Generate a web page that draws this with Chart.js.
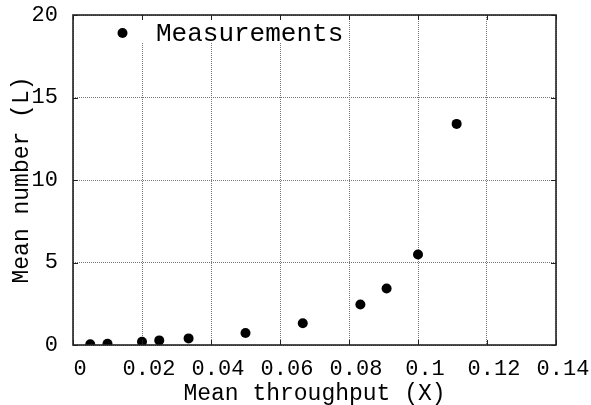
<!DOCTYPE html>
<html>
<head>
<meta charset="utf-8">
<script src="https://cdn.jsdelivr.net/npm/chart.js@4/dist/chart.umd.min.js"></script>
<style>
  html, body { margin: 0; padding: 0; background: #fff; }
  #wrap { width: 591px; height: 405px; }
</style>
</head>
<body>
<div id="wrap"><canvas id="c" width="591" height="405"></canvas></div>
<script>
// ---- data ----
const throughput = [0.005, 0.010, 0.020, 0.025, 0.0335, 0.050, 0.0666, 0.0833, 0.0909, 0.100, 0.1112];
const meanNumber = [0.05, 0.08, 0.20, 0.28, 0.40, 0.73, 1.32, 2.45, 3.42, 5.49, 13.4];
const seriesName = 'Measurements';
const xTitle = 'Mean throughput (X)';
const yTitle = 'Mean number (L)';
const xRange = [0, 0.14, 0.02];
const yRange = [0, 20, 5];

const FONT = "'Courier New', 'Liberation Mono', monospace";

const points = throughput.map((x, i) => ({ x: x, y: meanNumber[i] }));

const framePlugin = {
  id: 'frame',
  afterDatasetsDraw(chart) {
    const { ctx, chartArea: a, scales } = chart;
    const ds = chart.data.datasets[0];
    ctx.save();
    // opaque key box
    ctx.fillStyle = '#fff';
    ctx.fillRect(a.left + 1, a.top + 1, 272, 27);
    // key
    ctx.fillStyle = '#000';
    ctx.beginPath();
    ctx.arc(a.left + 49.5, a.top + 18, ds.pointRadius, 0, Math.PI * 2);
    ctx.fill();
    ctx.font = '26px ' + FONT;
    ctx.textBaseline = 'middle';
    ctx.textAlign = 'left';
    ctx.fillText(ds.label, a.left + 83, a.top + 19);
    // inward ticks on all four sides
    ctx.strokeStyle = '#222';
    ctx.lineWidth = 1;
    const tl = 5;
    scales.x.ticks.forEach(t => {
      const px = Math.round(scales.x.getPixelForValue(t.value)) + 0.5;
      ctx.beginPath();
      ctx.moveTo(px, a.bottom); ctx.lineTo(px, a.bottom - tl);
      ctx.moveTo(px, a.top); ctx.lineTo(px, a.top + tl);
      ctx.stroke();
    });
    scales.y.ticks.forEach(t => {
      const py = Math.round(scales.y.getPixelForValue(t.value)) + 0.5;
      ctx.beginPath();
      ctx.moveTo(a.left, py); ctx.lineTo(a.left + tl, py);
      ctx.moveTo(a.right, py); ctx.lineTo(a.right - tl, py);
      ctx.stroke();
    });
    // frame
    ctx.lineWidth = 1.6;
    ctx.strokeStyle = '#222';
    ctx.strokeRect(a.left, a.top, a.right - a.left, a.bottom - a.top);
    ctx.restore();
  }
};

new Chart(document.getElementById('c'), {
  type: 'scatter',
  plugins: [framePlugin],
  data: {
    datasets: [{
      label: seriesName,
      data: points,
      backgroundColor: '#000',
      borderColor: '#000',
      pointRadius: 5,
      pointHoverRadius: 5,
      borderWidth: 0
    }]
  },
  options: {
    responsive: false,
    animation: false,
    events: [],
    layout: { padding: { top: 15, right: 35, bottom: 0, left: 0 } },
    plugins: { legend: { display: false }, tooltip: { enabled: false } },
    scales: {
      x: {
        type: 'linear',
        min: xRange[0], max: xRange[1],
        afterBuildTicks(s) {
          const t = [];
          for (let v = xRange[0]; v <= xRange[1] + 1e-9; v += xRange[2]) t.push({ value: Math.round(v * 100) / 100 });
          s.ticks = t;
        },
        afterFit(s) { s.height = 60; s.paddingLeft = 0; s.paddingRight = 0; },
        grid: { color: '#777', lineWidth: 1, drawTicks: false },
        border: { display: false, dash: [1, 1] },
        ticks: {
          font: { family: FONT, size: 22 },
          color: '#000',
          padding: 11,
          labelOffset: 7,
          maxRotation: 0,
          autoSkip: false,
          callback: v => String(Number(v.toFixed(2)))
        },
        title: {
          display: true, text: xTitle, color: '#000',
          font: { family: FONT, size: 23 }, padding: { top: 0, bottom: -3 }
        }
      },
      y: {
        type: 'linear',
        min: yRange[0], max: yRange[1],
        ticks: {
          stepSize: yRange[2],
          font: { family: FONT, size: 22 },
          color: '#000',
          padding: 15
        },
        afterFit(s) { s.width = 73; s.paddingTop = 0; s.paddingBottom = 0; },
        grid: { color: '#777', lineWidth: 1, drawTicks: false },
        border: { display: false, dash: [1, 1] },
        title: {
          display: true, text: yTitle, color: '#000',
          font: { family: FONT, size: 23 }, padding: { top: 8, bottom: 0 }
        }
      }
    }
  }
});
</script>
</body>
</html>
